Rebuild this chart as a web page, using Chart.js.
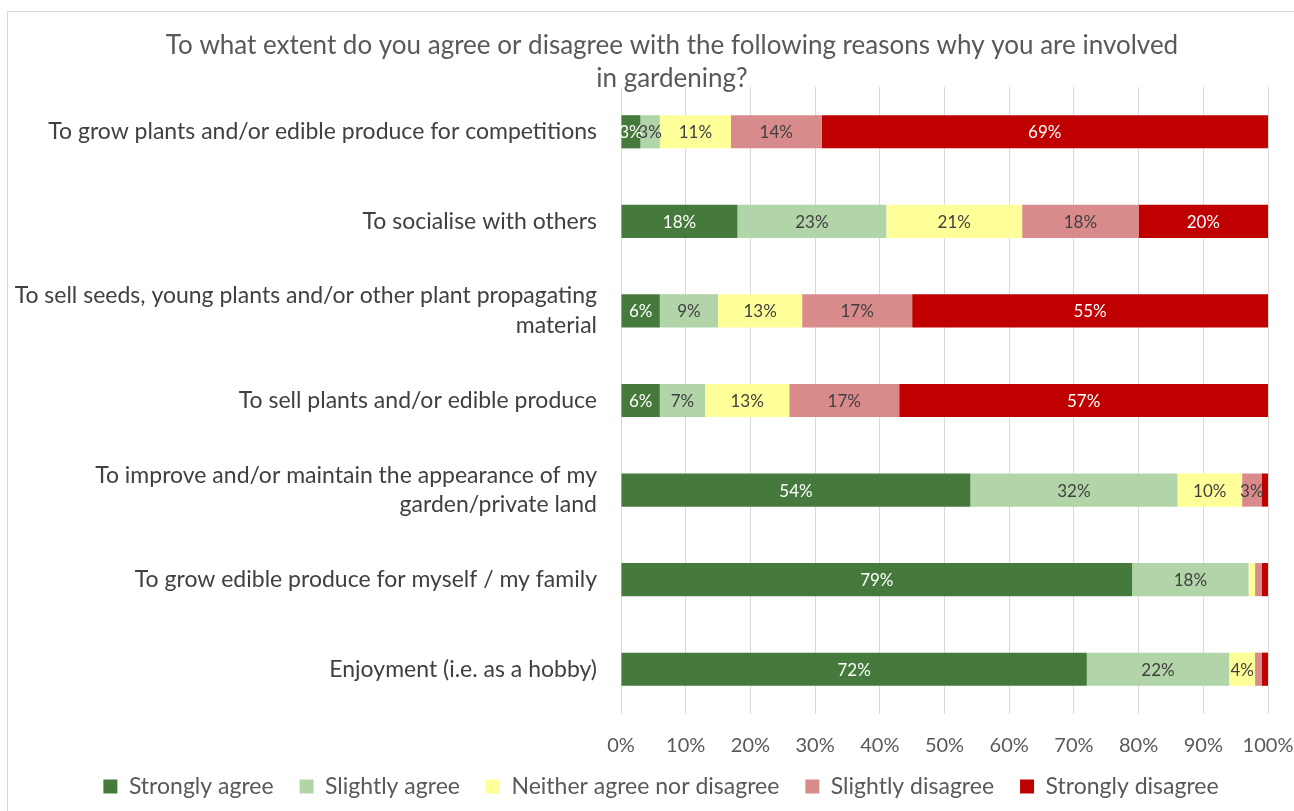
<!DOCTYPE html>
<html>
<head>
<meta charset="utf-8">
<title>Reasons for gardening</title>
<script src="https://cdn.jsdelivr.net/npm/chart.js@4.4.1/dist/chart.umd.min.js"></script>
<style>
  body { margin: 0; background: #fff; }
  #wrap { position: relative; width: 1294px; height: 811px; overflow: hidden; }
  #frame { position: absolute; left: 7px; top: 11px; width: 1300px; height: 820px; border: 1px solid #d9d9d9; }
  canvas { position: absolute; left: 0; top: 0; }
</style>
</head>
<body>
<div id="wrap">
  <div id="frame"></div>
  <canvas id="chart" width="1294" height="811"></canvas>
</div>
<script>
const FONT = "Lato, 'Liberation Sans', sans-serif";

const titleLines = [
  "To what extent do you agree or disagree with the following reasons why you are involved",
  "in gardening?"
];

const reasons = [
  "To grow plants and/or edible produce for competitions",
  "To socialise with others",
  ["To sell seeds, young plants and/or other plant propagating", "material"],
  "To sell plants and/or edible produce",
  ["To improve and/or maintain the appearance of my", "garden/private land"],
  "To grow edible produce for myself / my family",
  "Enjoyment (i.e. as a hobby)"
];

const stronglyAgree    = [3, 18, 6, 6, 54, 79, 72];
const slightlyAgree    = [3, 23, 9, 7, 32, 18, 22];
const neither          = [11, 21, 13, 13, 10, 1, 4];
const slightlyDisagree = [14, 18, 17, 17, 3, 1, 1];
const stronglyDisagree = [69, 20, 55, 57, 1, 1, 1];

const xTicks = [0, 10, 20, 30, 40, 50, 60, 70, 80, 90, 100];

const series = [
  { label: "Strongly agree", data: stronglyAgree, color: "#467a3c", text: "#ffffff" },
  { label: "Slightly agree", data: slightlyAgree, color: "#b2d4a9", text: "#404040" },
  { label: "Neither agree nor disagree", data: neither, color: "#ffff99", text: "#404040" },
  { label: "Slightly disagree", data: slightlyDisagree, color: "#d98b8b", text: "#404040" },
  { label: "Strongly disagree", data: stronglyDisagree, color: "#c00000", text: "#ffffff" }
];

// percentage labels inside each segment, skipped for the tiny ones
const segmentLabels = {
  id: "segmentLabels",
  afterDatasetsDraw(chart) {
    const ctx = chart.ctx;
    ctx.save();
    ctx.font = "17px " + FONT;
    ctx.textAlign = "center";
    ctx.textBaseline = "middle";
    chart.data.datasets.forEach((ds, i) => {
      const meta = chart.getDatasetMeta(i);
      meta.data.forEach((bar, j) => {
        const v = ds.data[j];
        if (v < 2) return;
        ctx.fillStyle = series[i].text;
        ctx.fillText(v + "%", (bar.x + bar.base) / 2, bar.y + 1);
      });
    });
    ctx.restore();
  }
};

// two-line heading, allowed to run into the plot area
const heading = {
  id: "heading",
  afterDraw(chart) {
    const ctx = chart.ctx;
    ctx.save();
    ctx.font = "26px " + FONT;
    ctx.fillStyle = "#595959";
    ctx.textAlign = "center";
    ctx.textBaseline = "middle";
    ctx.fillText(titleLines[0], 672, 46);
    ctx.fillText(titleLines[1], 672, 79);
    ctx.restore();
  }
};

// keep the legend compact and tuck it just under the tick labels
const legendPlacement = {
  id: "legendPlacement",
  beforeLayout(chart) {
    const lg = chart.legend;
    if (lg && !lg.fitPatched) {
      const fit = lg.fit;
      lg.fit = function () { fit.call(this); this.height = 53; };
      lg.fitPatched = true;
    }
  },
  afterLayout(chart) {
    const lg = chart.legend;
    lg.top -= 9;
    lg.bottom -= 9;
    lg.left += 17;
    lg.right += 17;
  }
};

new Chart(document.getElementById("chart"), {
  type: "bar",
  data: {
    labels: reasons,
    datasets: series.map(s => ({
      label: s.label,
      data: s.data,
      backgroundColor: s.color,
      borderWidth: 0,
      barPercentage: 0.37,
      categoryPercentage: 1
    }))
  },
  options: {
    indexAxis: "y",
    responsive: false,
    animation: false,
    layout: { padding: { top: 87, right: 6, left: 0, bottom: 0 } },
    scales: {
      x: {
        stacked: true,
        min: 0,
        max: 100,
        afterBuildTicks: axis => { axis.ticks = xTicks.map(v => ({ value: v })); },
        afterFit: axis => {
          axis.height = 44;
          axis.paddingRight = 26;
        },
        ticks: {
          callback: v => v + "%",
          color: "#595959",
          font: { family: FONT, size: 20 },
          padding: 20,
          maxRotation: 0
        },
        grid: { color: "#d9d9d9", drawTicks: false },
        border: { display: false }
      },
      y: {
        stacked: true,
        afterFit: axis => { axis.width = 621; },
        ticks: {
          color: "#404040",
          font: { family: FONT, size: 23, lineHeight: 1.3 },
          padding: 24
        },
        grid: { display: false, drawTicks: false },
        border: { display: false }
      }
    },
    plugins: {
      title: { display: false },
      tooltip: { enabled: false },
      legend: {
        position: "bottom",
        labels: {
          boxWidth: 14,
          boxHeight: 14,
          padding: 26,
          color: "#595959",
          font: { family: FONT, size: 23 }
        }
      }
    }
  },
  plugins: [segmentLabels, heading, legendPlacement]
});
</script>
</body>
</html>
